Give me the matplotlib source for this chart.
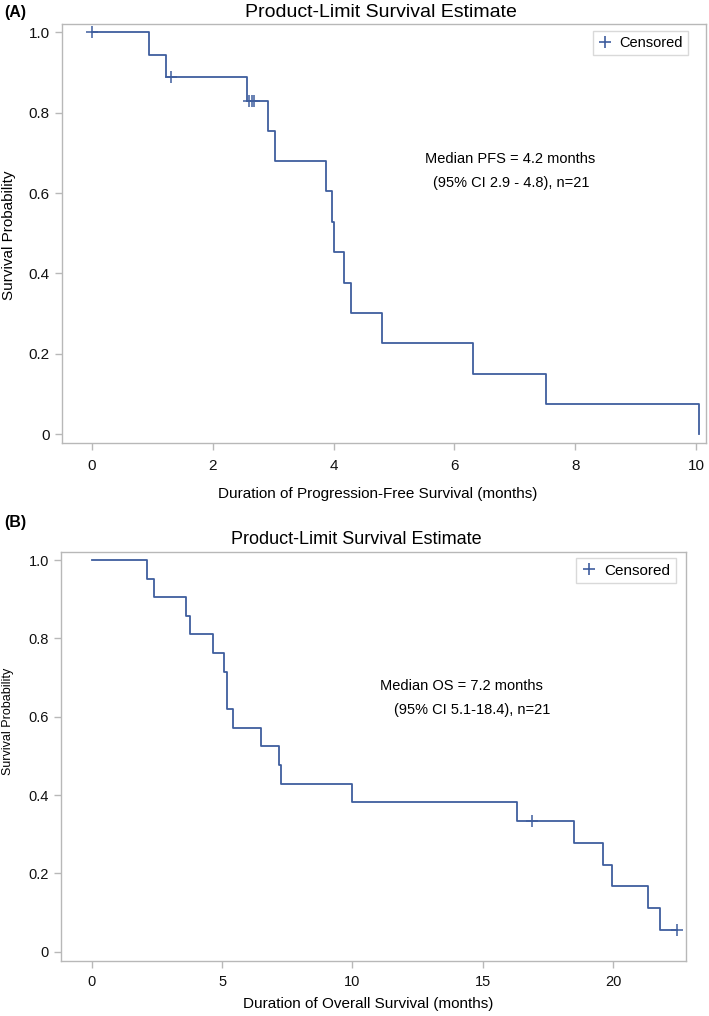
import matplotlib
matplotlib.use('Agg')
import matplotlib.pyplot as plt
from matplotlib.lines import Line2D

plt.rcParams['font.family'] = ['Liberation Sans', 'DejaVu Sans']

# (A) progression-free survival, step curve
pfs_time = [0, 0.94, 1.22, 2.57, 2.92, 3.03, 3.88, 3.98, 4.01, 4.17, 4.29, 4.80, 6.31, 7.52, 10.04]
pfs_surv = [1.0, 0.944, 0.889, 0.830, 0.755, 0.679, 0.604, 0.528, 0.453, 0.377, 0.302, 0.226, 0.151, 0.075, 0.0]
pfs_cens_time = [0, 1.31, 2.60, 2.64, 2.68]
pfs_cens_surv = [1.0, 0.889, 0.830, 0.830, 0.830]

# (B) overall survival
os_time = [0, 2.11, 2.40, 3.62, 3.78, 4.66, 5.08, 5.19, 5.42, 6.50, 7.19, 7.26, 9.99,
           16.31, 18.49, 19.59, 19.94, 21.34, 21.80, 22.45]
os_surv = [1.0, 0.952, 0.905, 0.857, 0.810, 0.762, 0.714, 0.619, 0.571, 0.524, 0.476, 0.429, 0.381,
           0.333, 0.278, 0.222, 0.167, 0.111, 0.056, 0.056]
os_cens_time = [16.90, 22.45]
os_cens_surv = [0.333, 0.056]

y_ticks = [0, 0.2, 0.4, 0.6, 0.8, 1.0]
y_ticklabels = ['0', '0.2', '0.4', '0.6', '0.8', '1.0']

W, H = 709, 1016
LINE = '#3f5e9e'
FRAME = '#b8b8b8'

fig = plt.figure(figsize=(W / 100, H / 100), dpi=100)


def px_axes(left, top, right, bottom):
    return fig.add_axes([left / W, 1 - bottom / H, (right - left) / W, (bottom - top) / H])


def px_text(x, y, s, **kw):
    kw.setdefault('ha', 'center')
    kw.setdefault('va', 'center')
    return fig.text(x / W, 1 - y / H, s, **kw)


def style(ax, fs):
    for s in ax.spines.values():
        s.set_color(FRAME)
        s.set_linewidth(1.0)
    ax.tick_params(direction='out', length=5, width=1.0, color=FRAME,
                   labelsize=fs, labelcolor='#111111')
    ax.set_yticks(y_ticks)
    ax.set_yticklabels(y_ticklabels)


def censor_legend(ax, x, y, fs):
    h = Line2D([], [], color=LINE, marker='+', linestyle='none', markersize=9, markeredgewidth=1.2)
    leg = ax.legend([h], ['Censored'], loc='upper left', bbox_to_anchor=(x / W, 1 - y / H),
                    bbox_transform=fig.transFigure, borderaxespad=0, frameon=True, fancybox=False,
                    fontsize=fs, handlelength=1.0, handletextpad=0.5, borderpad=0.35)
    leg.get_frame().set_edgecolor('#d0d0d0')
    leg.get_frame().set_linewidth(1.0)


# ---------------- panel A ----------------
axA = px_axes(61.7, 24.3, 706, 442.7)
axA.step(pfs_time, pfs_surv, where='post', color=LINE, lw=1.3)
axA.plot(pfs_cens_time, pfs_cens_surv, '+', color=LINE, ms=8, mew=1.1)
axA.set_xlim(-0.503, 10.164)
axA.set_ylim(-0.021, 1.02)
axA.set_xticks([0, 2, 4, 6, 8, 10])
style(axA, 11)
axA.tick_params(axis='x', pad=7)
px_text(378, 494, 'Duration of Progression-Free Survival (months)', fontsize=11)
px_text(9.5, 235, 'Survival Probability', fontsize=11, rotation=90)
px_text(510, 159, 'Median PFS = 4.2 months', fontsize=10.5)
px_text(511.7, 182.5, '(95% CI 2.9 - 4.8), n=21', fontsize=10.5)
censor_legend(axA, 592.7, 31, 10.5)
px_text(245, 12.5, 'Product-Limit Survival Estimate', fontsize=14, ha='left')
px_text(4, 12.5, '(A)', fontsize=11.5, fontweight='bold', ha='left')

# ---------------- panel B ----------------
axB = px_axes(60.7, 552.3, 686, 960.7)
axB.step(os_time, os_surv, where='post', color=LINE, lw=1.3)
axB.plot(os_cens_time, os_cens_surv, '+', color=LINE, ms=8, mew=1.1)
axB.set_xlim(-1.19, 22.79)
axB.set_ylim(-0.023, 1.0197)
axB.set_xticks([0, 5, 10, 15, 20])
style(axB, 10.5)
axB.tick_params(axis='x', pad=5)
px_text(368.5, 1004, 'Duration of Overall Survival (months)', fontsize=11)
px_text(8, 721, 'Survival Probability', fontsize=9, rotation=90)
px_text(461, 686, 'Median OS = 7.2 months', fontsize=10.5)
px_text(471.7, 710, '(95% CI 5.1-18.4), n=21', fontsize=10.5)
censor_legend(axB, 576, 558.3, 11)
px_text(230.7, 539.3, 'Product-Limit Survival Estimate', fontsize=13, ha='left')
px_text(4, 523, '(B)', fontsize=11.5, fontweight='bold', ha='left')

fig.savefig('out.png', dpi=100, facecolor='white')
